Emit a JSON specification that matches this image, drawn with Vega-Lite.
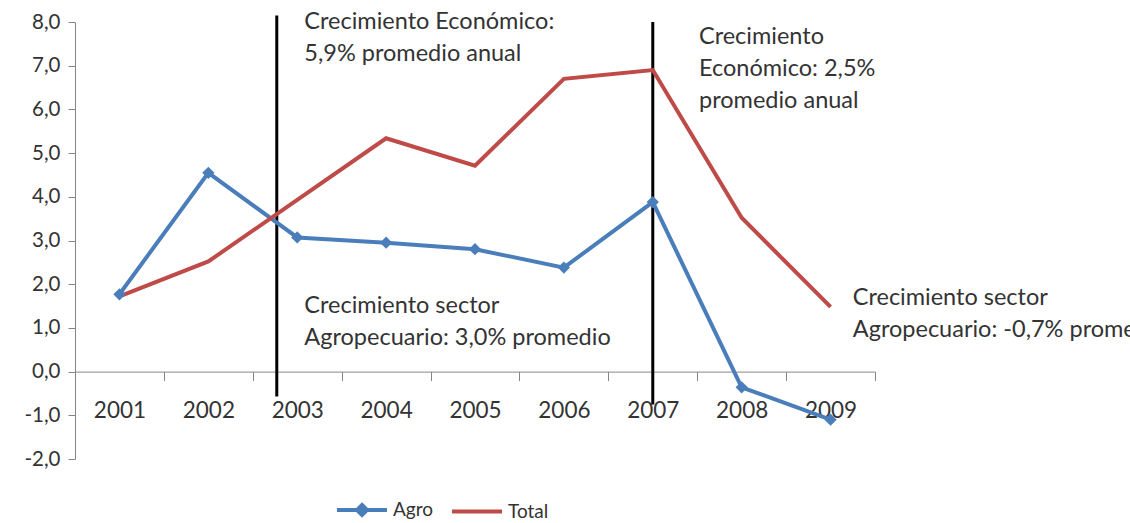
{
  "$schema": "https://vega.github.io/schema/vega-lite/v6.json",
  "width": 800,
  "height": 437,
  "autosize": {"type": "none"},
  "padding": {"left": 75, "top": 22, "right": 255, "bottom": 64},
  "background": "white",
  "config": {"view": {"stroke": null}, "font": "Lato"},
  "datasets": {
    "series": [
      {"year": 2001, "value": 1.77, "series": "Agro"},
      {"year": 2002, "value": 4.55, "series": "Agro"},
      {"year": 2003, "value": 3.07, "series": "Agro"},
      {"year": 2004, "value": 2.95, "series": "Agro"},
      {"year": 2005, "value": 2.8, "series": "Agro"},
      {"year": 2006, "value": 2.38, "series": "Agro"},
      {"year": 2007, "value": 3.88, "series": "Agro"},
      {"year": 2008, "value": -0.36, "series": "Agro"},
      {"year": 2009, "value": -1.1, "series": "Agro"},
      {"year": 2001, "value": 1.72, "series": "Total"},
      {"year": 2002, "value": 2.52, "series": "Total"},
      {"year": 2003, "value": 3.93, "series": "Total"},
      {"year": 2004, "value": 5.34, "series": "Total"},
      {"year": 2005, "value": 4.71, "series": "Total"},
      {"year": 2006, "value": 6.7, "series": "Total"},
      {"year": 2007, "value": 6.9, "series": "Total"},
      {"year": 2008, "value": 3.52, "series": "Total"},
      {"year": 2009, "value": 1.48, "series": "Total"}
    ],
    "markers": [
      {"year": 2002.77, "value": 8.15, "value2": -0.57},
      {"year": 2007.0, "value": 8.0, "value2": -0.75}
    ],
    "notes": [
      {"year": 2003.08, "value": 7.83, "label": ["Crecimiento Económico:", "5,9% promedio anual"]},
      {"year": 2007.52, "value": 7.5, "label": ["Crecimiento", "Económico: 2,5%", "promedio anual"]},
      {"year": 2003.08, "value": 1.35, "label": ["Crecimiento sector", "Agropecuario: 3,0% promedio"]},
      {"year": 2009.25, "value": 1.53, "label": ["Crecimiento sector", "Agropecuario: -0,7% promedio"]}
    ]
  },
  "encoding": {
    "x": {
      "field": "year",
      "type": "quantitative",
      "scale": {"domain": [2000.5, 2009.5], "nice": false, "zero": false},
      "axis": {
        "title": null,
        "offset": -87.4,
        "values": [2000.5, 2001, 2001.5, 2002, 2002.5, 2003, 2003.5, 2004, 2004.5, 2005, 2005.5, 2006, 2006.5, 2007, 2007.5, 2008, 2008.5, 2009, 2009.5],
        "labelExpr": "datum.value % 1 == 0 ? format(datum.value, 'd') : ''",
        "tickOpacity": {"condition": {"test": "datum.value % 1 == 0", "value": 0}, "value": 1},
        "tickSize": 9,
        "labelPadding": 19,
        "labelFontSize": 22.5,
        "labelColor": "#333333",
        "domainColor": "#868686",
        "tickColor": "#868686",
        "grid": false,
        "labelOverlap": false,
        "labelFlush": false,
        "labelBound": false
      }
    },
    "y": {
      "field": "value",
      "type": "quantitative",
      "scale": {"domain": [-2, 8], "nice": false, "zero": false},
      "axis": {
        "title": null,
        "values": [-2, -1, 0, 1, 2, 3, 4, 5, 6, 7, 8],
        "labelExpr": "replace(replace(format(datum.value, '.1f'), '.', ','), '\u2212', '-')",
        "tickSize": 7,
        "labelPadding": 8,
        "labelFontSize": 20.5,
        "labelColor": "#333333",
        "domainColor": "#868686",
        "tickColor": "#868686",
        "grid": false
      }
    }
  },
  "layer": [
    {
      "data": {"name": "markers"},
      "mark": {"type": "rule", "color": "#000000", "strokeWidth": 3},
      "encoding": {"y2": {"field": "value2"}}
    },
    {
      "data": {"name": "series"},
      "mark": {"type": "line", "strokeWidth": 4},
      "encoding": {
        "color": {
          "field": "series",
          "type": "nominal",
          "scale": {"domain": ["Agro", "Total"], "range": ["#4a7ebb", "#be4b48"]},
          "legend": {
            "title": null,
            "orient": "none",
            "direction": "horizontal",
            "legendX": 260,
            "legendY": 461,
            "symbolType": "M-1,0L1,0",
            "symbolSize": 2500,
            "symbolStrokeWidth": 4,
            "labelFontSize": 19,
            "labelColor": "#333333",
            "labelOffset": 4,
            "columnPadding": 10,
            "encode": {
              "symbols": {
                "update": {
                  "shape": {"signal": "datum.value === 'Agro' ? 'M-1,0L1,0M0,-0.2L0.2,0L0,0.2L-0.2,0Z' : 'M-1,0L1,0'"},
                  "stroke": {"signal": "datum.value === 'Agro' ? '#4a7ebb' : '#be4b48'"},
                  "fill": {"signal": "datum.value === 'Agro' ? '#4a7ebb' : '#be4b48'"},
                  "strokeWidth": {"value": 4},
                  "opacity": {"value": 1}
                }
              }
            }
          }
        }
      }
    },
    {
      "data": {"name": "series"},
      "transform": [{"filter": "datum.series === 'Agro'"}],
      "mark": {"type": "point", "shape": "diamond", "filled": true, "size": 150, "opacity": 1},
      "encoding": {
        "color": {"field": "series", "type": "nominal"}
      }
    },
    {
      "data": {"name": "notes"},
      "mark": {"type": "text", "align": "left", "baseline": "alphabetic", "fontSize": 23.5, "lineHeight": 32, "color": "#333333"},
      "encoding": {"text": {"field": "label"}}
    }
  ]
}
